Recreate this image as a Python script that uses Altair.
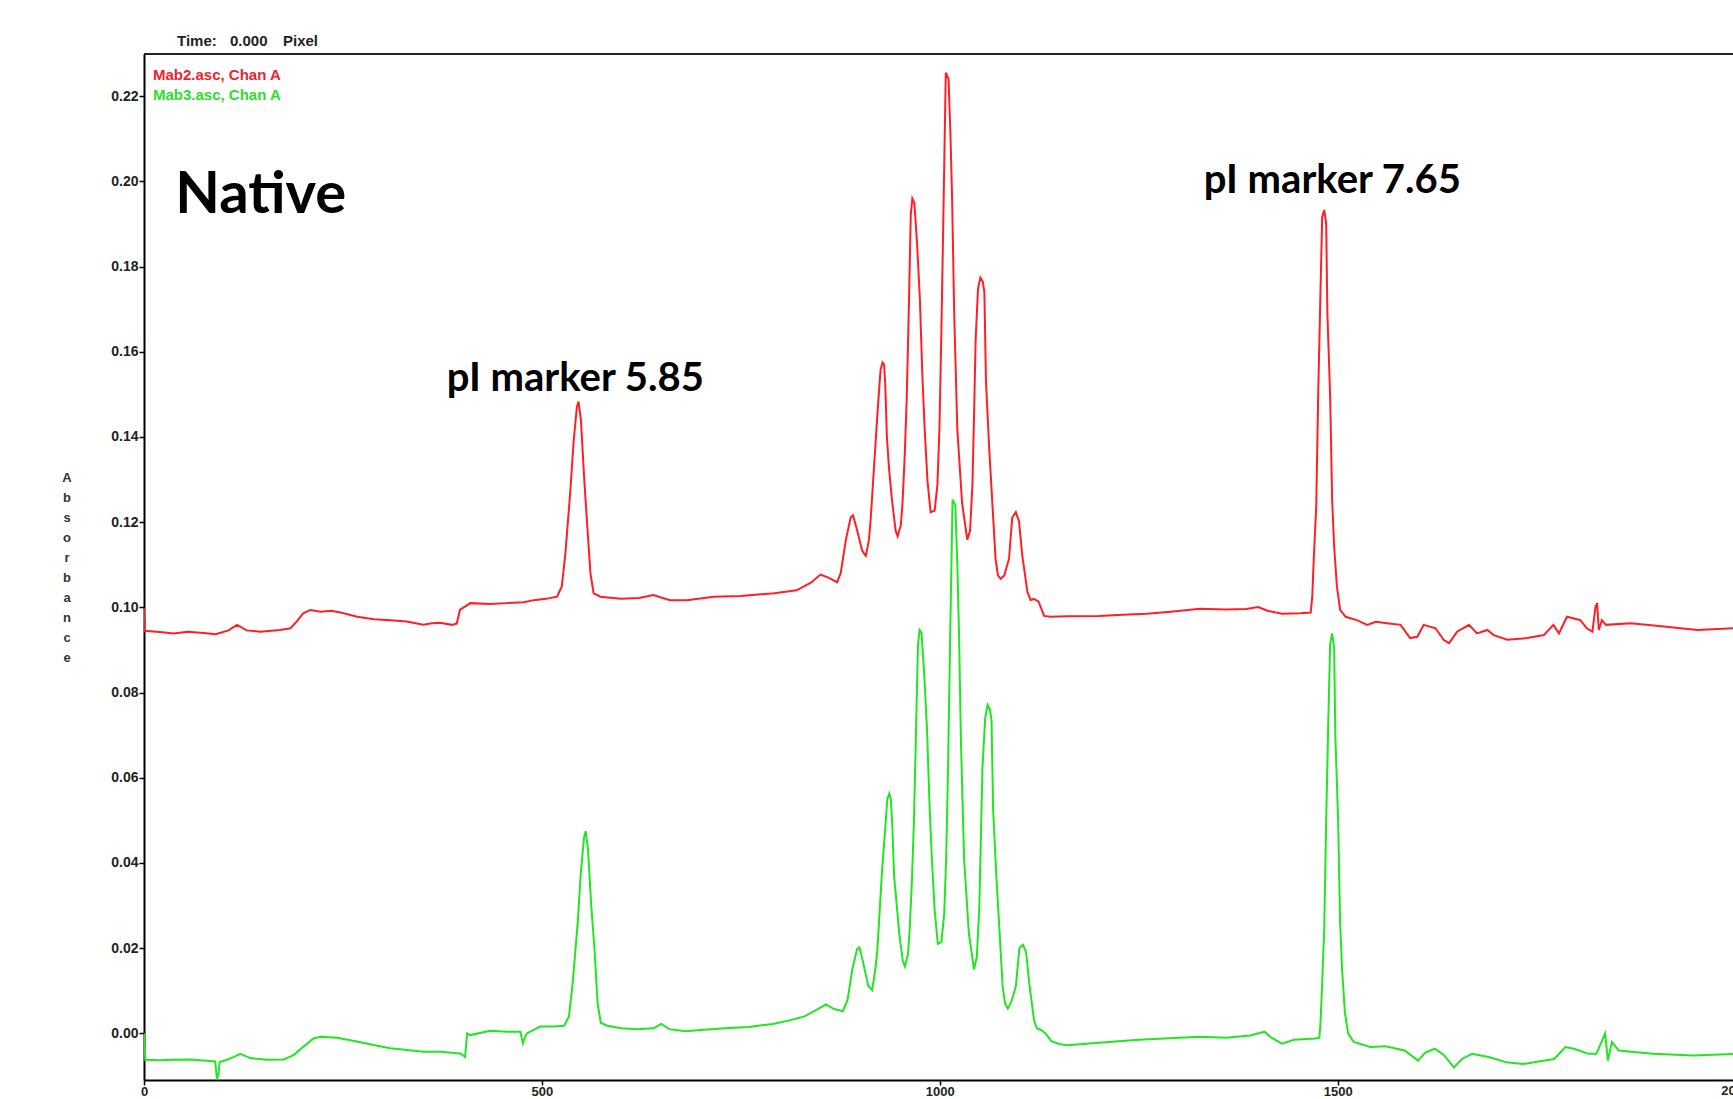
import altair as alt
import pandas as pd

# ---------------- data ----------------
series_names = ["Mab2.asc, Chan A", "Mab3.asc, Chan A"]
series_colors = ["#ff1f26", "#22e622"]

red_x = [0, 1, 20, 37, 55, 75, 90, 106, 117, 129, 146, 160, 171, 184, 192, 200, 209, 222, 235, 247,
         268, 289, 310, 330, 351, 362, 372, 387, 393, 397, 410, 435, 456, 477, 490, 505, 519, 525, 529.5, 535.5,
         540, 544, 546, 549, 553, 556.5, 561, 565, 573.5, 599, 622, 640, 661, 682, 716, 750, 792, 820, 838, 850,
         860, 871, 875.5, 882, 888, 891, 895.5, 902.5, 907, 911, 913, 919.5, 922.5, 925.5, 928, 930, 931.5, 933.5,
         936, 940, 944.5, 947, 951, 953, 956, 958.5, 961, 963.5, 965.5, 968, 971.5, 975, 978, 981, 984.5, 988.5,
         993.5, 997, 999.5, 1002, 1004.5, 1007.5, 1011, 1013.5, 1015.5, 1018, 1022, 1028, 1034.5, 1038, 1041, 1043,
         1045, 1048, 1051, 1054, 1056, 1058, 1062, 1066, 1070, 1073, 1076.5, 1081, 1087, 1091, 1095.5, 1099.5,
         1103.5, 1110, 1114, 1118, 1124, 1131, 1139, 1160, 1200, 1230, 1260, 1290, 1327, 1360, 1385, 1400, 1412,
         1430, 1453, 1466, 1468, 1470, 1473, 1475.5, 1478, 1480.5, 1483, 1485.5, 1487, 1490.5, 1493, 1495.5, 1499,
         1503, 1510, 1524, 1537, 1548, 1562, 1579, 1591, 1600, 1608, 1623, 1633, 1640, 1650, 1665, 1675, 1688,
         1696, 1713, 1738, 1759, 1771, 1778, 1788, 1797, 1805, 1813, 1820, 1824, 1826, 1828, 1832, 1837, 1868,
         1910, 1952, 1998]
red_y = [0.0998, 0.0945, 0.0942, 0.0939, 0.0943, 0.0940, 0.0937, 0.0946, 0.0959, 0.0946, 0.0943, 0.0945, 0.0947,
         0.0951, 0.0967, 0.0986, 0.0994, 0.0990, 0.0992, 0.0988, 0.0978, 0.0972, 0.0970, 0.0967, 0.0959, 0.0963,
         0.0964, 0.0959, 0.0962, 0.0994, 0.1010, 0.1008, 0.1010, 0.1012, 0.1017, 0.1020, 0.1025, 0.1049, 0.1127,
         0.1268, 0.1393, 0.1471, 0.1483, 0.1440, 0.1307, 0.1205, 0.1080, 0.1033, 0.1025, 0.1020, 0.1022, 0.1029,
         0.1017, 0.1017, 0.1025, 0.1027, 0.1033, 0.1040, 0.1058, 0.1077, 0.1070, 0.1059, 0.1081, 0.1159, 0.1211,
         0.1216, 0.1185, 0.1133, 0.1121, 0.1159, 0.1204, 0.1392, 0.1479, 0.1557, 0.1575, 0.1570, 0.1520, 0.1400,
         0.1330, 0.1250, 0.1180, 0.1167, 0.1193, 0.1240, 0.1360, 0.1496, 0.1696, 0.1921, 0.1960, 0.1950, 0.1852,
         0.1722, 0.1548, 0.1418, 0.1297, 0.1223, 0.1227, 0.1288, 0.1418, 0.1650, 0.1921, 0.2255, 0.2240, 0.2100,
         0.1956, 0.1696, 0.1418, 0.1245, 0.1159, 0.1180, 0.1288, 0.1450, 0.1627, 0.1748, 0.1774, 0.1765, 0.1740,
         0.1531, 0.1375, 0.1245, 0.1115, 0.1075, 0.1067, 0.1075, 0.1115, 0.1211, 0.1224, 0.1202, 0.1124, 0.1037,
         0.1017, 0.1020, 0.1014, 0.0980, 0.0978, 0.0979, 0.0980, 0.0983, 0.0985, 0.0990, 0.0997, 0.0995, 0.0996,
         0.1001, 0.0992, 0.0985, 0.0986, 0.0988, 0.1025, 0.1119, 0.1237, 0.1503, 0.1714, 0.1917, 0.1933, 0.1902,
         0.1691, 0.1495, 0.1252, 0.1143, 0.1049, 0.0994, 0.0978, 0.0970, 0.0959, 0.0966, 0.0963, 0.0959, 0.0928,
         0.0931, 0.0959, 0.0951, 0.0924, 0.0916, 0.0943, 0.0959, 0.0939, 0.0947, 0.0935, 0.0924, 0.0928, 0.0935,
         0.0959, 0.0939, 0.0978, 0.0974, 0.0970, 0.0951, 0.0943, 0.1002, 0.1010, 0.0947, 0.0970, 0.0959, 0.0963,
         0.0955, 0.0947, 0.0951]

green_x = [0, 1.5, 20, 37, 58, 79, 89.5, 91.5, 93.5, 95, 104, 113, 121, 133.5, 154.5, 175.5, 188, 200.5, 213,
           221.5, 242.5, 267.5, 288.5, 309.5, 330.5, 351.5, 372.5, 397.5, 403.5, 406, 410, 435, 456, 473, 476, 479,
           481, 498, 515, 528, 534, 538.5, 545, 549, 553, 555, 558, 562, 566, 570, 574, 582, 600, 620, 640, 650,
           660, 680, 700, 730, 760, 790, 810, 830, 845, 857, 866, 878, 884, 890, 896, 899, 903, 910, 915, 919,
           921.5, 927.5, 931, 934, 936.5, 938.5, 940.5, 942.5, 945, 949, 953.5, 956, 960, 962, 965, 967.5, 970,
           972.5, 974.5, 977, 980.5, 984, 987, 990, 993.5, 997.5, 1002, 1005.5, 1008, 1010.5, 1013, 1016, 1019.5,
           1022, 1024, 1026.5, 1030.5, 1036.5, 1043, 1046.5, 1049.5, 1051.5, 1053.5, 1057, 1060, 1063, 1065, 1067,
           1071, 1075, 1079, 1082, 1085.5, 1090, 1095.5, 1100, 1104.5, 1108.5, 1112.5, 1118.5, 1122, 1127, 1133,
           1140, 1150, 1160, 1200, 1250, 1300, 1328, 1360, 1390, 1408, 1415, 1430, 1445, 1472, 1477, 1478.5,
           1480.5, 1483, 1485.5, 1488, 1490.5, 1493, 1495.5, 1497, 1500.5, 1503, 1505.5, 1509, 1513, 1520, 1541,
           1560, 1584, 1601, 1610, 1622, 1633, 1646, 1656, 1669, 1691, 1712, 1733, 1752, 1772, 1786, 1797, 1815,
           1825, 1836, 1839.5, 1844.5, 1853, 1896, 1947, 1998]
green_y = [0.0000, -0.0062, -0.0063, -0.0062, -0.0061, -0.0064, -0.0066, -0.0105, -0.0100, -0.0067, -0.0062,
           -0.0055, -0.0048, -0.0058, -0.0062, -0.0061, -0.0051, -0.0031, -0.0012, -0.0008, -0.0010, -0.0019,
           -0.0027, -0.0035, -0.0039, -0.0043, -0.0043, -0.0047, -0.0055, 0.0000, -0.0004, 0.0006, 0.0004, 0.0004,
           -0.0023, -0.0008, 0.0000, 0.0016, 0.0016, 0.0018, 0.0040, 0.0115, 0.0260, 0.0380, 0.0460, 0.0475,
           0.0430, 0.0300, 0.0200, 0.0070, 0.0025, 0.0018, 0.0012, 0.0010, 0.0012, 0.0022, 0.0010, 0.0005, 0.0008,
           0.0012, 0.0015, 0.0022, 0.0030, 0.0040, 0.0055, 0.0068, 0.0058, 0.0052, 0.0078, 0.0150, 0.0198, 0.0202,
           0.0172, 0.0112, 0.0102, 0.0150, 0.0195, 0.0385, 0.0470, 0.0550, 0.0563, 0.0550, 0.0480, 0.0370, 0.0320,
           0.0235, 0.0170, 0.0157, 0.0185, 0.0240, 0.0360, 0.0500, 0.0700, 0.0910, 0.0947, 0.0940, 0.0840, 0.0710,
           0.0540, 0.0410, 0.0290, 0.0210, 0.0215, 0.0280, 0.0410, 0.0640, 0.0930, 0.1253, 0.1240, 0.1100, 0.0950,
           0.0690, 0.0410, 0.0235, 0.0150, 0.0180, 0.0290, 0.0450, 0.0620, 0.0740, 0.0771, 0.0760, 0.0735, 0.0525,
           0.0370, 0.0240, 0.0110, 0.0070, 0.0058, 0.0075, 0.0110, 0.0200, 0.0208, 0.0190, 0.0115, 0.0030, 0.0012,
           0.0008, 0.0000, -0.0018, -0.0025, -0.0028, -0.0022, -0.0015, -0.0010, -0.0008, -0.0010, -0.0005, 0.0004,
           -0.0008, -0.0024, -0.0015, -0.0012, -0.0010, 0.0030, 0.0120, 0.0240, 0.0500, 0.0720, 0.0915, 0.0939,
           0.0905, 0.0700, 0.0500, 0.0260, 0.0150, 0.0050, 0.0000, -0.0020, -0.0032, -0.0030, -0.0040, -0.0064,
           -0.0045, -0.0036, -0.0050, -0.0080, -0.0060, -0.0048, -0.0056, -0.0068, -0.0072, -0.0066, -0.0060,
           -0.0032, -0.0036, -0.0048, -0.0048, 0.0000, -0.0064, -0.0020, -0.0040, -0.0048, -0.0052, -0.0048]

x_ticks = [0, 500, 1000, 1500]
y_ticks = [0.00, 0.02, 0.04, 0.06, 0.08, 0.10, 0.12, 0.14, 0.16, 0.18, 0.20, 0.22]

annot_text = ["Native", "pI marker 5.85", "pI marker 7.65"]
annot_x = [39.3, 380.5, 1331.8]
annot_y = [0.1926, 0.1508, 0.1972]

# ---------------- layout ----------------
W, H = 1589, 1026
XMAX = 1996.7
YMIN, YMAX = -0.01094, 0.2299
LABEL_FONT = "Liberation Sans"

df = pd.DataFrame({
    "x": red_x + green_x,
    "y": red_y + green_y,
    "series": [series_names[0]] * len(red_x) + [series_names[1]] * len(green_x),
    "order": list(range(len(red_x))) + list(range(len(green_x))),
})

xs = alt.Scale(domain=[0, XMAX], nice=False, zero=False)
ys = alt.Scale(domain=[YMIN, YMAX], nice=False, zero=False)

xaxis = alt.Axis(values=x_ticks, format="d", title=None, grid=False, domainColor="#000", domainWidth=2,
                 tickColor="#000", tickWidth=1.5, tickSize=5, labelFont=LABEL_FONT, labelFontSize=13,
                 labelFontWeight="bold", labelColor="#222", labelPadding=0, labelFlush=False,
                 labelBaseline="top")
yaxis = alt.Axis(values=y_ticks, format=".2f", title=None, grid=False, domainColor="#000", domainWidth=2,
                 tickColor="#000", tickWidth=1.5, tickSize=5, labelFont=LABEL_FONT, labelFontSize=14,
                 labelFontWeight="bold", labelColor="#222", labelPadding=1)

X = lambda f: alt.X(f, scale=xs, axis=xaxis)
Y = lambda f: alt.Y(f, scale=ys, axis=yaxis)

lines = alt.Chart(df).mark_line(strokeWidth=2, clip=True).encode(
    x=X("x:Q"), y=Y("y:Q"),
    color=alt.Color("series:N", scale=alt.Scale(domain=series_names, range=series_colors), legend=None),
    detail="series:N",
    order="order:Q",
)

adf = pd.DataFrame({"x": annot_x, "y": annot_y, "t": annot_text})
native = alt.Chart(adf.iloc[[0]]).mark_text(align="left", baseline="alphabetic", font="Lato",
                                             fontWeight="bold", fontSize=58, color="#000").encode(
    x=X("x:Q"), y=Y("y:Q"), text="t:N")
markers = alt.Chart(adf.iloc[[1, 2]]).mark_text(align="left", baseline="alphabetic", font="Lato",
                                                 fontWeight="bold", fontSize=40, color="#000").encode(
    x=X("x:Q"), y=Y("y:Q"), text="t:N")

last_tick = alt.Chart(pd.DataFrame({"x": [2000], "t": ["2000"]})).mark_text(
    baseline="top", align="center", font=LABEL_FONT, fontSize=13, fontWeight="bold", color="#222").encode(
    x=X("x:Q"), y=alt.value(H + 5), text="t:N")

top_border = alt.Chart(pd.DataFrame({"a": [0]})).mark_rule(color="#222", strokeWidth=2).encode(
    x=alt.value(0), x2=alt.value(W), y=alt.value(0))

def label(txt, px, py, color="#222", size=15, weight="bold", **kw):
    return alt.Chart(pd.DataFrame({"t": [txt]})).mark_text(
        align="left", baseline="alphabetic", font=LABEL_FONT, fontSize=size, fontWeight=weight,
        color=color, **kw).encode(x=alt.value(px), y=alt.value(py), text="t:N")

time_parts = [label("Time:", 33, -8), label("0.000", 86, -8), label("Pixel", 139, -8)]
legend_parts = [label(series_names[0], 9, 26, color="#ea2430"),
                label(series_names[1], 9, 46, color="#2fdc2f")]

ytitle = alt.Chart(pd.DataFrame({"t": ["A\nb\ns\no\nr\nb\na\nn\nc\ne"]})).mark_text(
    align="center", baseline="alphabetic", font=LABEL_FONT, fontSize=13, fontWeight="bold",
    color="#333", lineBreak="\n", lineHeight=20).encode(
    x=alt.value(-77), y=alt.value(428), text="t:N")

chart = alt.layer(lines, native, markers, last_tick, top_border, ytitle, *time_parts, *legend_parts).properties(
    width=W, height=H,
    autosize=alt.AutoSizeParams(type="none"),
    padding={"left": 144, "top": 54, "right": 0, "bottom": 19},
    background="#ffffff",
).configure_view(strokeWidth=0)

chart.save("out.html", embed_options={"renderer": "svg", "actions": False})
